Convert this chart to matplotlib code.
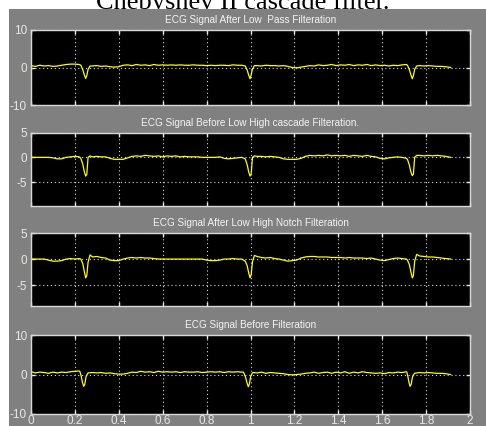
import matplotlib
matplotlib.use("Agg")
import matplotlib.pyplot as plt
from matplotlib.patches import Rectangle

# ---------------- data ----------------
main_title = "Chebyshev II cascade filter."
panel_titles = [
    "ECG Signal After Low  Pass Filteration",
    "ECG Signal Before Low High cascade Filteration.",
    "ECG Signal After Low High Notch Filteration",
    "ECG Signal Before Filteration",
]

# time samples (s) for the three filtered traces
t_filt = [
    0.00, 0.02, 0.04, 0.06, 0.08, 0.10, 0.12, 0.14, 0.16, 0.18, 0.20, 0.22,
    0.227, 0.236, 0.243, 0.249, 0.254, 0.260, 0.269,
    0.28, 0.30, 0.32, 0.34, 0.36, 0.38, 0.40, 0.42, 0.44,
    0.46, 0.48, 0.50, 0.52, 0.54, 0.56, 0.58, 0.60, 0.62,
    0.64, 0.66, 0.68, 0.70, 0.72, 0.74, 0.76, 0.78, 0.80,
    0.82, 0.84, 0.86, 0.88, 0.90, 0.92, 0.94, 0.96,
    0.976, 0.985, 0.992, 0.998, 1.003, 1.009, 1.018,
    1.03, 1.05, 1.07, 1.09, 1.11, 1.13, 1.15, 1.17, 1.19,
    1.21, 1.23, 1.25, 1.27, 1.29, 1.31, 1.33, 1.35, 1.37,
    1.39, 1.41, 1.43, 1.45, 1.47, 1.49, 1.51, 1.53, 1.55,
    1.57, 1.59, 1.61, 1.63, 1.65, 1.67, 1.69, 1.71,
    1.715, 1.724, 1.731, 1.737, 1.742, 1.748, 1.757,
    1.77, 1.79, 1.81, 1.83, 1.85, 1.87, 1.89, 1.912,
]

# time samples (s) for the raw trace
t_raw = [
    0.00, 0.02, 0.04, 0.06, 0.08, 0.10, 0.12, 0.14, 0.16, 0.18, 0.20, 0.22,
    0.223, 0.229, 0.234, 0.240, 0.245, 0.251, 0.260,
    0.28, 0.30, 0.32, 0.34, 0.36, 0.38, 0.40, 0.42, 0.44,
    0.46, 0.48, 0.50, 0.52, 0.54, 0.56, 0.58, 0.60, 0.62,
    0.64, 0.66, 0.68, 0.70, 0.72, 0.74, 0.76, 0.78, 0.80,
    0.82, 0.84, 0.86, 0.88, 0.90, 0.92, 0.94, 0.96,
    0.968, 0.977, 0.984, 0.990, 0.995, 1.001, 1.010,
    1.03, 1.05, 1.07, 1.09, 1.11, 1.13, 1.15, 1.17, 1.19,
    1.21, 1.23, 1.25, 1.27, 1.29, 1.31, 1.33, 1.35, 1.37,
    1.39, 1.41, 1.43, 1.45, 1.47, 1.49, 1.51, 1.53, 1.55,
    1.57, 1.59, 1.61, 1.63, 1.65, 1.67, 1.69, 1.71,
    1.712, 1.717, 1.722, 1.727, 1.732, 1.738, 1.747,
    1.77, 1.79, 1.81, 1.83, 1.85, 1.87, 1.89, 1.912,
]

ecg_after_lowpass = [
    0.5, 0.3, 0.6, 0.4, 0.5, 0.3, 0.4, 0.6, 0.8, 0.9, 0.9, 0.8,
    0.6, -0.6, -2.0, -2.9, -2.2, -0.5, 0.4,
    0.4, 0.5, 0.3, 0.4, 0.2, 0.1, 0.2, 0.6, 0.7,
    0.5, 0.8, 0.6, 0.7, 0.5, 0.8, 0.6, 0.7, 0.6,
    0.7, 0.6, 0.7, 0.6, 0.6, 0.7, 0.6, 0.6, 0.5,
    0.6, 0.5, 0.6, 0.6, 0.5, 0.7, 0.6, 0.6,
    0.4, -0.7, -2.1, -3.0, -2.0, -0.4, 0.5,
    0.5, 0.4, 0.6, 0.5, 0.5, 0.4, 0.5, 0.3, 0.0,
    -0.1, 0.1, 0.3, 0.5, 0.4, 0.7, 0.5, 0.6, 0.8,
    0.5, 0.7, 0.6, 0.8, 0.5, 0.7, 0.6, 0.8, 0.5,
    0.7, 0.5, 0.6, 0.4, 0.6, 0.5, 0.7, 0.8,
    0.6, -0.6, -2.0, -3.0, -2.2, -0.5, 0.4,
    0.5, 0.4, 0.5, 0.4, 0.3, 0.3, 0.2, 0.0,
]

ecg_before_cascade = [
    0.0, 0.0, 0.0, 0.0, 0.0, -0.1, -0.3, -0.3, 0.0, 0.1, 0.2, 0.1,
    -0.2, -1.4, -2.9, -3.8, -3.5, 0.0, 0.3,
    0.1, 0.2, 0.1, 0.1, -0.2, -0.4, -0.4, -0.4, -0.1,
    0.2, 0.3, 0.2, 0.4, 0.3, 0.2, 0.3, 0.1, 0.3,
    0.2, 0.3, 0.1, 0.2, 0.1, 0.1, 0.1, 0.0, 0.0,
    0.0, 0.0, 0.1, -0.2, -0.3, -0.2, -0.1, 0.0,
    -0.3, -1.5, -3.0, -3.8, -3.4, 0.0, 0.3,
    0.2, 0.2, 0.1, 0.2, 0.1, 0.0, -0.3, -0.4, -0.4,
    -0.4, -0.2, 0.2, 0.4, 0.3, 0.4, 0.3, 0.5, 0.3,
    0.4, 0.3, 0.4, 0.2, 0.4, 0.3, 0.2, 0.4, 0.2,
    0.1, -0.2, -0.3, -0.1, 0.0, 0.1, 0.0, -0.2,
    -0.4, -1.6, -3.0, -3.7, -3.4, 0.0, 0.4,
    0.4, 0.3, 0.4, 0.3, 0.4, 0.3, 0.2, 0.0,
]

ecg_after_notch = [
    0.0, 0.0, 0.0, 0.0, -0.2, -0.4, -0.4, -0.3, 0.0, 0.1, 0.0, 0.1,
    0.0, -0.9, -2.4, -3.6, -3.2, -0.6, 0.8,
    0.4, 0.5, 0.3, 0.2, -0.2, -0.3, -0.3, 0.0, 0.2,
    0.3, 0.2, 0.3, 0.2, 0.2, 0.1, 0.0, 0.0, 0.0,
    0.0, 0.0, 0.0, 0.0, 0.0, 0.0, 0.0, 0.0, -0.2,
    -0.3, -0.3, -0.2, 0.0, 0.0, 0.1, 0.0, 0.0,
    -0.4, -1.3, -2.7, -3.6, -3.0, -0.5, 0.7,
    0.5, 0.3, 0.2, 0.3, 0.1, 0.0, -0.2, -0.4, -0.3,
    -0.2, 0.2, 0.4, 0.5, 0.5, 0.4, 0.4, 0.4, 0.3,
    0.3, 0.3, 0.2, 0.3, 0.2, 0.2, 0.2, 0.1, 0.2,
    0.0, -0.2, -0.3, -0.1, 0.1, 0.2, 0.1, 0.0,
    -0.2, -1.1, -2.5, -3.6, -3.2, -0.4, 0.9,
    0.6, 0.5, 0.4, 0.4, 0.3, 0.2, 0.1, 0.0,
]

ecg_raw = [
    0.7, 0.4, 0.6, 0.5, 0.3, 0.6, 0.4, 0.6, 0.5, 0.7, 0.8, 0.9,
    0.7, -0.5, -1.9, -3.0, -2.5, -0.5, 0.4,
    0.5, 0.4, 0.5, 0.3, 0.4, 0.2, 0.1, 0.1, 0.3,
    0.6, 0.5, 0.8, 0.6, 0.7, 0.5, 0.8, 0.6, 0.7,
    0.6, 0.7, 0.5, 0.7, 0.6, 0.6, 0.7, 0.5, 0.6,
    0.7, 0.6, 0.7, 0.5, 0.7, 0.6, 0.7, 0.6,
    0.6, -0.6, -2.1, -3.1, -2.4, -0.4, 0.5,
    0.4, 0.6, 0.3, 0.5, 0.4, 0.3, 0.2, 0.0, -0.1,
    0.0, 0.1, 0.3, 0.4, 0.6, 0.3, 0.5, 0.6, 0.3,
    0.6, 0.4, 0.7, 0.3, 0.6, 0.4, 0.7, 0.5, 0.4,
    0.3, 0.4, 0.2, 0.5, 0.4, 0.6, 0.5, 0.7,
    0.6, -0.5, -2.0, -3.0, -2.5, -0.6, 0.3,
    0.5, 0.4, 0.5, 0.4, 0.3, 0.3, 0.2, 0.0,
]

x_ticks = [0, 0.2, 0.4, 0.6, 0.8, 1, 1.2, 1.4, 1.6, 1.8, 2]
x_tick_labels = ["0", "0.2", "0.4", "0.6", "0.8", "1", "1.2", "1.4", "1.6", "1.8", "2"]
y_ticks = [[-10, 0, 10], [-5, 0, 5], [-5, 0, 5], [-10, 0, 10]]
y_tick_labels = [["-10", "0", "10"], ["-5", "0", "5"], ["-5", "0", "5"], ["-10", "0", "10"]]
y_limits = [(-10, 10), (-9.8, 5), (-9.0, 5), (-10, 10)]

# ---------------- figure ----------------
W, H = 486, 426
fig = plt.figure(figsize=(W / 100, H / 100), dpi=100, facecolor="white")

fig.text(0.5, 1 - 9 / H, main_title, ha="center", va="baseline",
         family="Liberation Serif", fontsize=19, color="black", zorder=0.05)
fig.patches.append(Rectangle((9 / W, 0), 1 - 9 / W, 1 - 9 / H,
                             transform=fig.transFigure, facecolor="#808080",
                             edgecolor="none", zorder=0.1))

# axes boxes in pixel coordinates: (top, bottom)
boxes = [(30, 105), (132.7, 205.7), (233, 306), (335, 414)]
left_px, right_px = 31, 470

series = [(t_filt, ecg_after_lowpass), (t_filt, ecg_before_cascade),
          (t_filt, ecg_after_notch), (t_raw, ecg_raw)]

for i, ((top, bot), (tt, yy)) in enumerate(zip(boxes, series)):
    ax = fig.add_axes([left_px / W, 1 - bot / H, (right_px - left_px) / W, (bot - top) / H])
    ax.set_zorder(2)
    ax.set_facecolor("black")
    ax.plot(tt, yy, color="#ffff00", lw=0.9)
    ax.set_xlim(0, 2)
    ax.set_ylim(*y_limits[i])
    ax.set_xticks(x_ticks)
    ax.set_yticks(y_ticks[i])
    ax.set_yticklabels(y_tick_labels[i], family="Liberation Sans", fontsize=8.5, color="#f0f0f0")
    if i == 3:
        ax.set_xticklabels(x_tick_labels, family="Liberation Sans", fontsize=8.5, color="#f0f0f0")
    else:
        ax.set_xticklabels([])
    ax.tick_params(direction="in", length=3, width=1, colors="#e8e8e8",
                   top=True, right=True)
    ax.tick_params(axis="y", pad=3)
    ax.tick_params(axis="x", pad=1)
    ax.grid(True, color="#d8d8d8", linestyle=(0, (1, 2.5)), lw=0.8)
    for sp in ax.spines.values():
        sp.set_color("#d8d8d8")
        sp.set_linewidth(1.0)
    ax.set_title(panel_titles[i], family="Liberation Sans", fontsize=7.2,
                 color="#f4f4f4", pad=5)

fig.savefig("out.png", dpi=100, facecolor="white")
